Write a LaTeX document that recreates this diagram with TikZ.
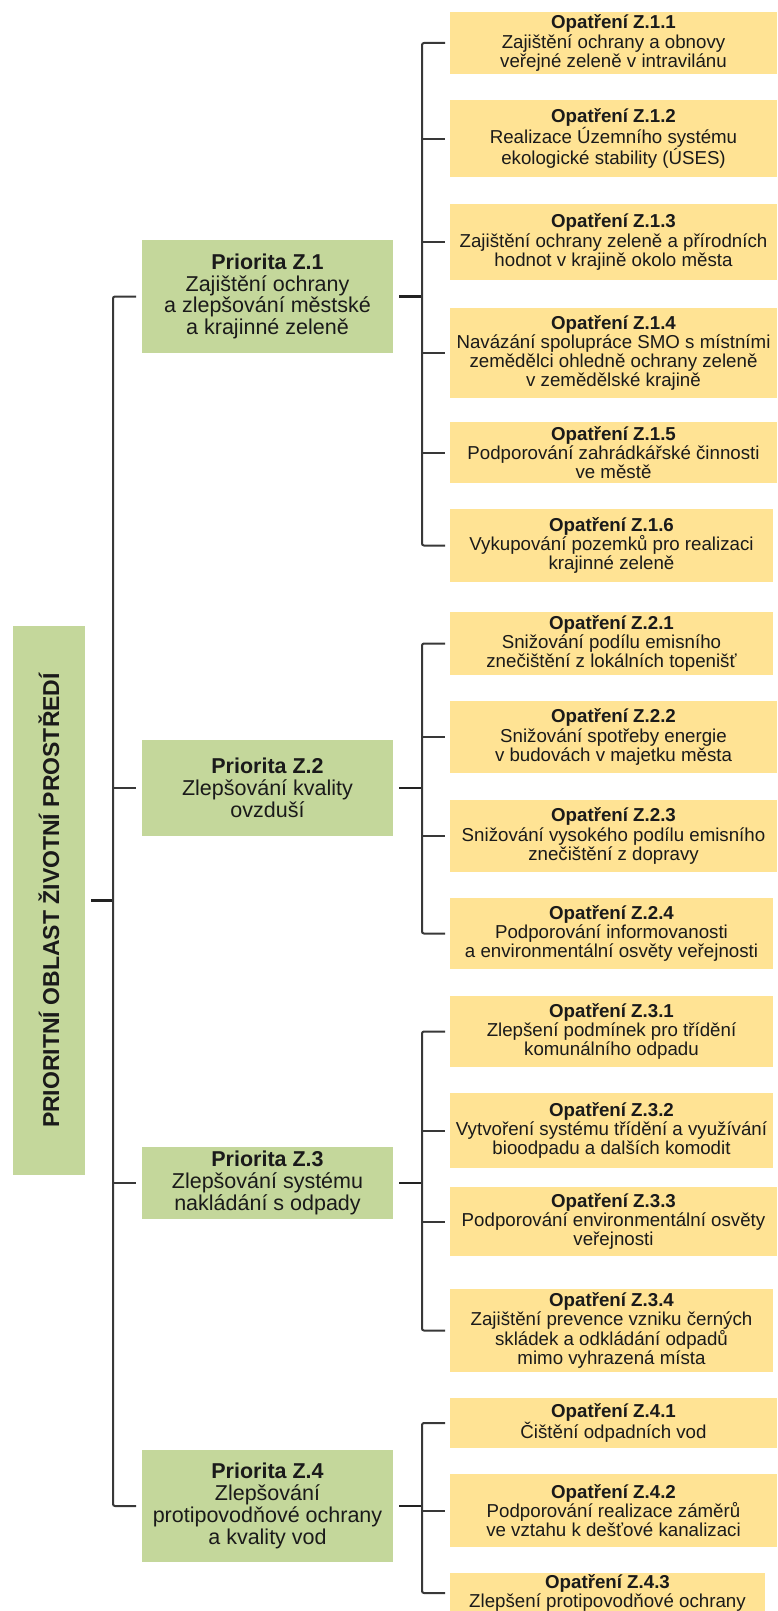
\documentclass[tikz,border=0pt]{standalone}
\usepackage{fontspec}
\setmainfont{Liberation Sans}
\definecolor{grn}{HTML}{C4D79B}
\definecolor{ylw}{HTML}{FFE394}
\definecolor{ln}{HTML}{383838}
\definecolor{lndark}{HTML}{222222}
\definecolor{txt}{HTML}{1A1A1A}
\begin{document}
\begin{tikzpicture}[x=1pt,y=-1pt,
  opbox/.style={fill=ylw, inner sep=0pt, outer sep=0pt, anchor=north west, align=center, text=txt,
    font=\fontsize{18.7}{19.3}\selectfont},
  prbox/.style={fill=grn, inner sep=0pt, outer sep=0pt, anchor=north west, align=center, text=txt,
    minimum width=251pt, font=\fontsize{21.5}{21.8}\selectfont},
  rootbox/.style={fill=grn, inner sep=0pt, outer sep=0pt, rotate=90, text=txt,
    minimum width=549pt, minimum height=72pt, font=\fontsize{23}{24}\selectfont\bfseries},
  conn/.style={draw=ln, line width=2pt, rounded corners=2pt},
  thick conn/.style={draw=lndark, line width=2.6pt},
]
\useasboundingbox (0,0) rectangle (777,1611);
\clip (0,0) rectangle (777,1611);

% root
\node[rootbox] (root) at (49,900.5) {PRIORITNÍ OBLAST ŽIVOTNÍ PROSTŘEDÍ};

% priorities
\node[prbox, minimum height=113pt] (p1) at (142,240) {\textbf{Priorita Z.1}\\Zajištění ochrany\\a zlepšování městské\\a krajinné zeleně};
\node[prbox, minimum height=96pt] (p2) at (142,740) {\textbf{Priorita Z.2}\\Zlepšování kvality\\ovzduší};
\node[prbox, minimum height=72pt] (p3) at (142,1147) {\textbf{Priorita Z.3}\\Zlepšování systému\\nakládání s odpady};
\node[prbox, minimum height=112pt] (p4) at (142,1450) {\textbf{Priorita Z.4}\\Zlepšování\\protipovodňové ochrany\\a kvality vod};

% measures Z.1
\node[opbox, minimum width=327pt, minimum height=62pt] (o11) at (450,12) {\textbf{Opatření Z.1.1}\\Zajištění ochrany a obnovy\\veřejné zeleně v intravilánu};
\node[opbox, minimum width=327pt, minimum height=77pt] (o12) at (450,100) {\textbf{Opatření Z.1.2}\\Realizace Územního systému\\ekologické stability (ÚSES)};
\node[opbox, minimum width=327pt, minimum height=76pt] (o13) at (450,204) {\textbf{Opatření Z.1.3}\\Zajištění ochrany zeleně a přírodních\\hodnot v krajině okolo města};
\node[opbox, minimum width=327pt, minimum height=90pt] (o14) at (450,308) {\textbf{Opatření Z.1.4}\\Navázání spolupráce SMO s místními\\zemědělci ohledně ochrany zeleně\\v zemědělské krajině};
\node[opbox, minimum width=327pt, minimum height=61pt] (o15) at (450,422) {\textbf{Opatření Z.1.5}\\Podporování zahrádkářské činnosti\\ve městě};
\node[opbox, minimum width=323pt, minimum height=73pt] (o16) at (450,509) {\textbf{Opatření Z.1.6}\\Vykupování pozemků pro realizaci\\krajinné zeleně};

% measures Z.2
\node[opbox, minimum width=323pt, minimum height=63pt] (o21) at (450,612) {\textbf{Opatření Z.2.1}\\Snižování podílu emisního\\znečištění z lokálních topenišť};
\node[opbox, minimum width=327pt, minimum height=72pt] (o22) at (450,701) {\textbf{Opatření Z.2.2}\\Snižování spotřeby energie\\v budovách v majetku města};
\node[opbox, minimum width=327pt, minimum height=72pt] (o23) at (450,800) {\textbf{Opatření Z.2.3}\\Snižování vysokého podílu emisního\\znečištění z dopravy};
\node[opbox, minimum width=323pt, minimum height=71pt] (o24) at (450,898) {\textbf{Opatření Z.2.4}\\Podporování informovanosti\\a environmentální osvěty veřejnosti};

% measures Z.3
\node[opbox, minimum width=323pt, minimum height=71pt] (o31) at (450,996) {\textbf{Opatření Z.3.1}\\Zlepšení podmínek pro třídění\\komunálního odpadu};
\node[opbox, minimum width=323pt, minimum height=75pt] (o32) at (450,1093) {\textbf{Opatření Z.3.2}\\Vytvoření systému třídění a využívání\\bioodpadu a dalších komodit};
\node[opbox, minimum width=327pt, minimum height=69pt] (o33) at (450,1187) {\textbf{Opatření Z.3.3}\\Podporování environmentální osvěty\\veřejnosti};
\node[opbox, minimum width=323pt, minimum height=83pt] (o34) at (450,1289) {\textbf{Opatření Z.3.4}\\Zajištění prevence vzniku černých\\skládek a odkládání odpadů\\mimo vyhrazená místa};

% measures Z.4
\node[opbox, minimum width=327pt, minimum height=50pt] (o41) at (450,1398) {\textbf{Opatření Z.4.1}\\Čištění odpadních vod};
\node[opbox, minimum width=327pt, minimum height=73pt] (o42) at (450,1474) {\textbf{Opatření Z.4.2}\\Podporování realizace záměrů\\ve vztahu k dešťové kanalizaci};
\node[opbox, minimum width=315pt, minimum height=40pt] (o43) at (450,1573) {\textbf{Opatření Z.4.3}\\Zlepšení protipovodňové ochrany};

% bracket x positions
\coordinate (xl) at (113,0);
\coordinate (xr) at (422,0);

% root bracket
\draw[thick conn] ([xshift=6pt]root.south) -- (xl |- root.south);
\draw[conn] ([xshift=-6pt]p1.west) -| (xl |- p4.west) -- ([xshift=-6pt]p4.west);
\draw[conn] (xl |- p2.west) -- ([xshift=-6pt]p2.west);
\draw[conn] (xl |- p3.west) -- ([xshift=-6pt]p3.west);

% Z.1 bracket
\draw[thick conn] ([xshift=6pt]p1.east) -- (xr |- p1.east);
\draw[conn] ([xshift=-5pt]o11.west) -| (xr |- o16.west) -- ([xshift=-5pt]o16.west);
\foreach \n in {o12,o13,o14,o15} \draw[conn] (xr |- \n.west) -- ([xshift=-5pt]\n.west);

% Z.2 bracket
\draw[thick conn] ([xshift=6pt]p2.east) -- (xr |- p2.east);
\draw[conn] ([xshift=-5pt]o21.west) -| (xr |- o24.west) -- ([xshift=-5pt]o24.west);
\foreach \n in {o22,o23} \draw[conn] (xr |- \n.west) -- ([xshift=-5pt]\n.west);

% Z.3 bracket
\draw[thick conn] ([xshift=6pt]p3.east) -- (xr |- p3.east);
\draw[conn] ([xshift=-5pt]o31.west) -| (xr |- o34.west) -- ([xshift=-5pt]o34.west);
\foreach \n in {o32,o33} \draw[conn] (xr |- \n.west) -- ([xshift=-5pt]\n.west);

% Z.4 bracket
\draw[thick conn] ([xshift=6pt]p4.east) -- (xr |- p4.east);
\draw[conn] ([xshift=-5pt]o41.west) -| (xr |- o43.west) -- ([xshift=-5pt]o43.west);
\draw[conn] (xr |- o42.west) -- ([xshift=-5pt]o42.west);
\end{tikzpicture}
\end{document}
